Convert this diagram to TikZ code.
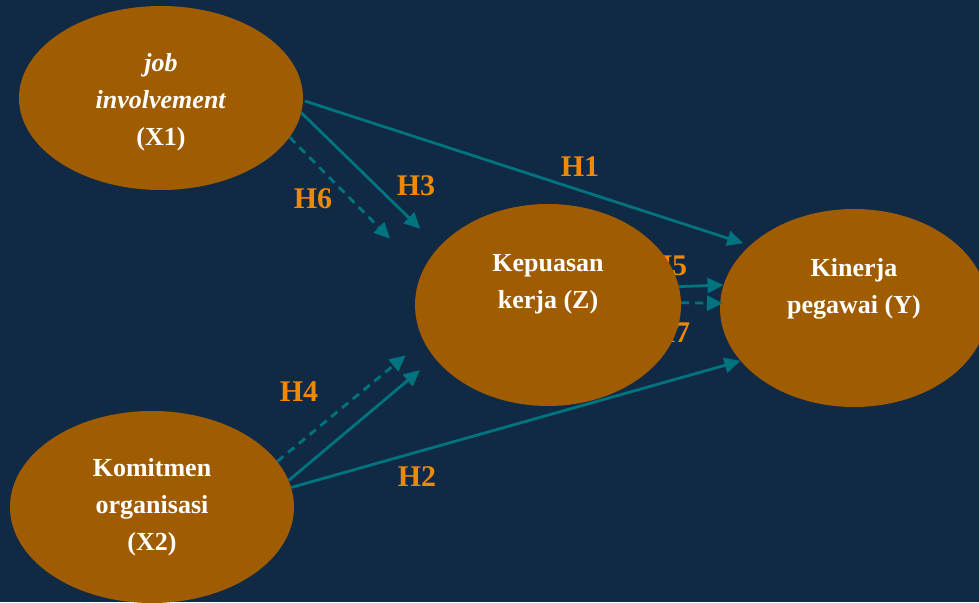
\documentclass[tikz,border=0pt]{standalone}
\usepackage{fontspec}
\setmainfont{Liberation Serif}
\usepackage{tikz}
\usetikzlibrary{shapes.geometric,arrows.meta}
\definecolor{navy}{RGB}{16,42,70}
\definecolor{ochre}{RGB}{160,92,0}
\definecolor{arrteal}{RGB}{0,116,126}
\definecolor{horange}{RGB}{238,136,8}
\tikzset{lvar/.style={ellipse,fill=ochre,inner sep=0pt,text=white,align=center,
	 font=\bfseries\fontsize{26}{37}\selectfont},
	 hyp/.style={text=horange,inner sep=0pt,font=\bfseries\fontsize{30}{36}\selectfont},
	 eff/.style={draw=arrteal,line width=2.8pt,-{Triangle[length=16pt,width=15pt]}},
	 meff/.style={eff,dash pattern=on 8pt off 6pt}
	 }

\begin{document}
\begin{tikzpicture}[x=1pt,y=-1pt] % path model
	\useasboundingbox (0,0) rectangle (979,602);
	\clip (0,0) rectangle (979,602);
	\fill[navy] (0,0) rectangle (979,602);
	\node[hyp] (h1) at (580,167) {H1};
	\node[hyp] (h2) at (417,477) {H2};
	\node[hyp] (h3) at (416,186) {H3};
	\node[hyp] (h4) at (299,392) {H4};
	\node[hyp] (h5) at (668,266) {H5};
	\node[hyp] (h6) at (313,199) {H6};
	\node[hyp] (h7) at (671,333) {H7};
	\node[lvar,minimum width=284pt,minimum height=184pt] (x1) at (161,98)
		{\textit{job}\rule{0pt}{26pt}\\\textit{involvement}\\(X1)};
	\node[lvar,minimum width=284pt,minimum height=192pt] (x2) at (152,507)
		{Komitmen\\organisasi\\(X2)};
	\node[lvar,minimum width=266pt,minimum height=202pt] (z) at (548,305)
		{Kepuasan\\kerja (Z)\\[10pt]\mbox{}};
	\node[lvar,minimum width=268pt,minimum height=198pt] (y) at (854,308)
		{Kinerja\\pegawai (Y)\\[7pt]\mbox{}};
	\draw[eff,shorten <=2pt,shorten >=7pt] (x1.-1) to (y.149);
	\draw[eff,shorten >=26pt] (x1.-6) to (z.152);
	\draw[meff,shorten >=46pt] (x1.-17) to (z.165);
	\draw[meff,shorten >=23pt] (x2.20) to (z.196.5);
	\draw[eff,shorten >=19pt] (x2.11) to (z.205.7);
	\draw[eff] (x2.8.6) to (y.205.7);
	\draw[eff] (z.8.3) to (y.170.3);
	\draw[meff,shorten >=-3pt] (z.1) to (y.178);
\end{tikzpicture}
\end{document}
